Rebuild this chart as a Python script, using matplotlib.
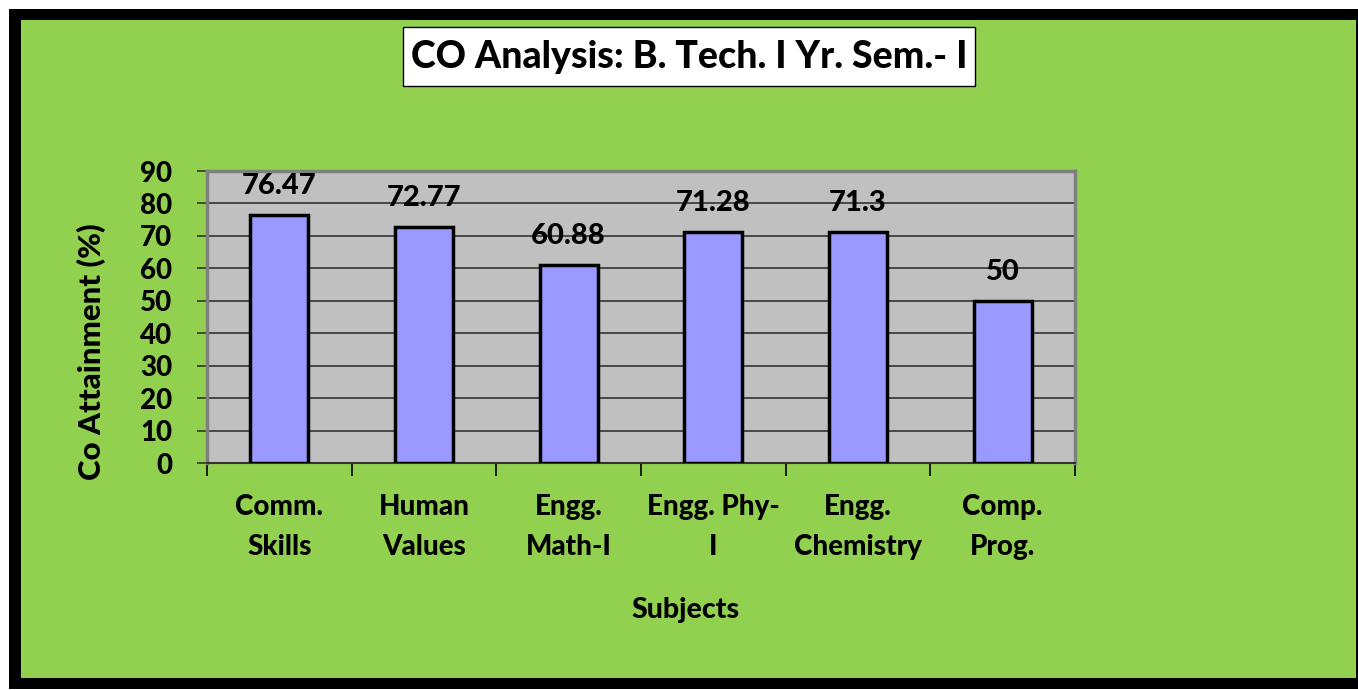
import matplotlib.pyplot as plt
from matplotlib.patches import Rectangle
import numpy as np

subjects = ["Comm.\nSkills", "Human\nValues", "Engg.\nMath-I", "Engg. Phy-\nI", "Engg.\nChemistry", "Comp.\nProg."]
attainment = [76.47, 72.77, 60.88, 71.28, 71.3, 50]
value_labels = ["76.47", "72.77", "60.88", "71.28", "71.3", "50"]
y_ticks = [0, 10, 20, 30, 40, 50, 60, 70, 80, 90]

plt.rcParams['font.family'] = ['Lato', 'DejaVu Sans']
WEIGHT = 900

W, H = 1358, 690
fig = plt.figure(figsize=(W / 100, H / 100), dpi=100, facecolor='white')


def px_rect(x0, y0, x1, y1, **kw):
    # rectangle given in pixel coords measured from the top-left corner
    return Rectangle((x0 / W, 1 - y1 / H), (x1 - x0) / W, (y1 - y0) / H,
                     transform=fig.transFigure, **kw)


# black frame with green chart area inside
fig.add_artist(px_rect(9, 9, 1358, 689, facecolor='black', edgecolor='none', zorder=0))
fig.add_artist(px_rect(21, 20, 1356, 678, facecolor='#92D050', edgecolor='none', zorder=0))

# title box
fig.add_artist(px_rect(403, 27, 975, 86, facecolor='white', edgecolor='black', lw=1, zorder=1))
fig.text(689 / W, 1 - 57 / H, "CO Analysis: B. Tech. I Yr. Sem.- I", ha='center', va='center',
         fontsize=27, fontweight=WEIGHT, color='black', zorder=2)

ax = fig.add_axes([207 / W, 1 - 463 / H, (1075 - 207) / W, (463 - 171) / H])
ax.set_facecolor('#C0C0C0')

x = np.arange(len(subjects))
bars = ax.bar(x, attainment, width=0.4, color='#9999FF', edgecolor='black', linewidth=2.5, zorder=3)
for xi, v, lbl in zip(x, attainment, value_labels):
    ax.annotate(lbl, (xi, v), xytext=(0, 21), textcoords='offset points', ha='center', va='center',
                fontsize=21, fontweight=WEIGHT, color='black', zorder=4)

ax.set_xlim(-0.5, len(subjects) - 0.5)
ax.set_ylim(0, 90)
ax.set_yticks(y_ticks)
ax.set_yticklabels([str(t) for t in y_ticks], fontsize=20, fontweight=WEIGHT)
ax.yaxis.grid(True, color='#333333', linewidth=1.2, zorder=1)
ax.set_axisbelow(True)
ax.tick_params(axis='y', direction='out', length=7, width=1.2, color='#333333', pad=18)

# category labels centred under bars, tick marks on the category boundaries
ax.set_xticks(np.arange(-0.5, len(subjects)), minor=False)
ax.set_xticklabels([])
ax.tick_params(axis='x', direction='out', length=9, width=1.2, color='black')
ax.set_xticks(x, minor=True)
ax.set_xticklabels(subjects, minor=True, fontsize=20, fontweight=WEIGHT, linespacing=1.7)
ax.tick_params(axis='x', which='minor', length=0, pad=22)

for side in ['left', 'top', 'right']:
    ax.spines[side].set_color('#808080')
    ax.spines[side].set_linewidth(2.5)
ax.spines['bottom'].set_color('#333333')
ax.spines['bottom'].set_linewidth(1.5)

fig.text(92 / W, 1 - 352 / H, "Co Attainment (%)", rotation=90, ha='center', va='center',
         fontsize=22.5, fontweight=WEIGHT)
fig.text(686 / W, 1 - 610 / H, "Subjects", ha='center', va='center', fontsize=20.5, fontweight=WEIGHT)

fig.savefig('out.png', dpi=100, facecolor=fig.get_facecolor())
